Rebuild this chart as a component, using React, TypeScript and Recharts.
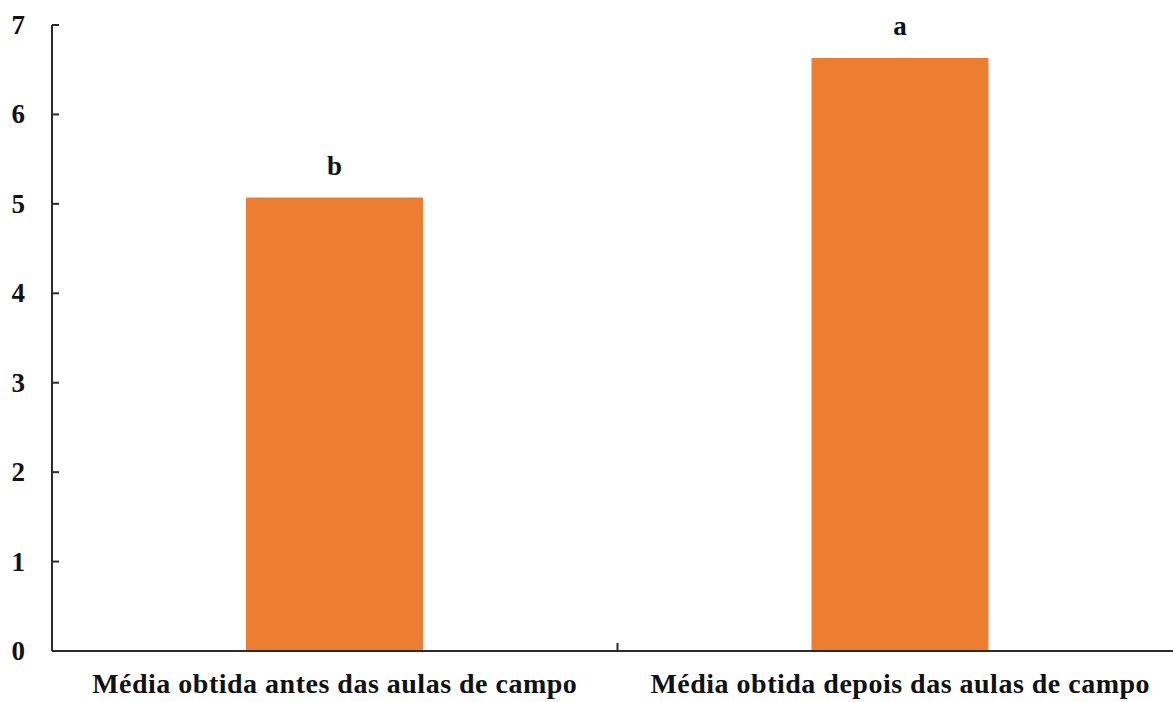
import { BarChart, Bar, XAxis, YAxis, LabelList } from "recharts";

const categories = ["Média obtida antes das aulas de campo", "Média obtida depois das aulas de campo"];
const medias = [5.07, 6.63];
const letras = ["b", "a"];
const yTicks = [0, 1, 2, 3, 4, 5, 6, 7];

const data = categories.map((name, i) => ({ name, media: medias[i], letra: letras[i] }));

const FONT = '"Liberation Serif", "Times New Roman", serif';
const AXIS = "#2b2b2b";

function YTick(props: any) {
  const { x, y, payload } = props;
  return (
    <g>
      <line x1={x} x2={x + 7} y1={y} y2={y} stroke={AXIS} strokeWidth={2} />
      <text x={x - 27} y={y} dy={9} textAnchor="end" fontFamily={FONT} fontWeight="bold" fontSize={27} fill="#111">
        {payload.value}
      </text>
    </g>
  );
}

function XTick(props: any) {
  const { x, y, payload, index } = props;
  const half = payload && payload.offset;
  return (
    <g>
      {index === 0 && half ? (
        <line x1={x + half} x2={x + half} y1={y} y2={y - 8} stroke={AXIS} strokeWidth={2} />
      ) : null}
      <text x={x} y={y} dy={42} textAnchor="middle" fontFamily={FONT} fontWeight="bold" fontSize={28} letterSpacing={0.5} fill="#111">
        {payload.value}
      </text>
    </g>
  );
}

export default function App() {
  return (
    <div style={{ position: "absolute", left: 0, top: 0, width: 1173, height: 702, overflow: "hidden", background: "#fff" }}>
      <BarChart width={1183} height={702} data={data} margin={{ top: 25, right: 0, bottom: 0, left: 0 }} barSize={177}>
        <XAxis
          dataKey="name"
          axisLine={{ stroke: AXIS, strokeWidth: 2 }}
          tickLine={false}
          tickSize={0}
          tickMargin={0}
          tick={<XTick />}
          height={51}
          interval={0}
        />
        <YAxis
          domain={[0, 7]}
          ticks={yTicks}
          width={52}
          tickSize={0}
          tickMargin={0}
          axisLine={{ stroke: AXIS, strokeWidth: 2 }}
          tickLine={false}
          tick={<YTick />}
          interval={0}
        />
        <Bar dataKey="media" fill="#ED7D31" isAnimationActive={false}>
          <LabelList dataKey="letra" position="top" offset={23} fontFamily={FONT} fontWeight="bold" fontSize={27} fill="#111" />
        </Bar>
      </BarChart>
    </div>
  );
}
